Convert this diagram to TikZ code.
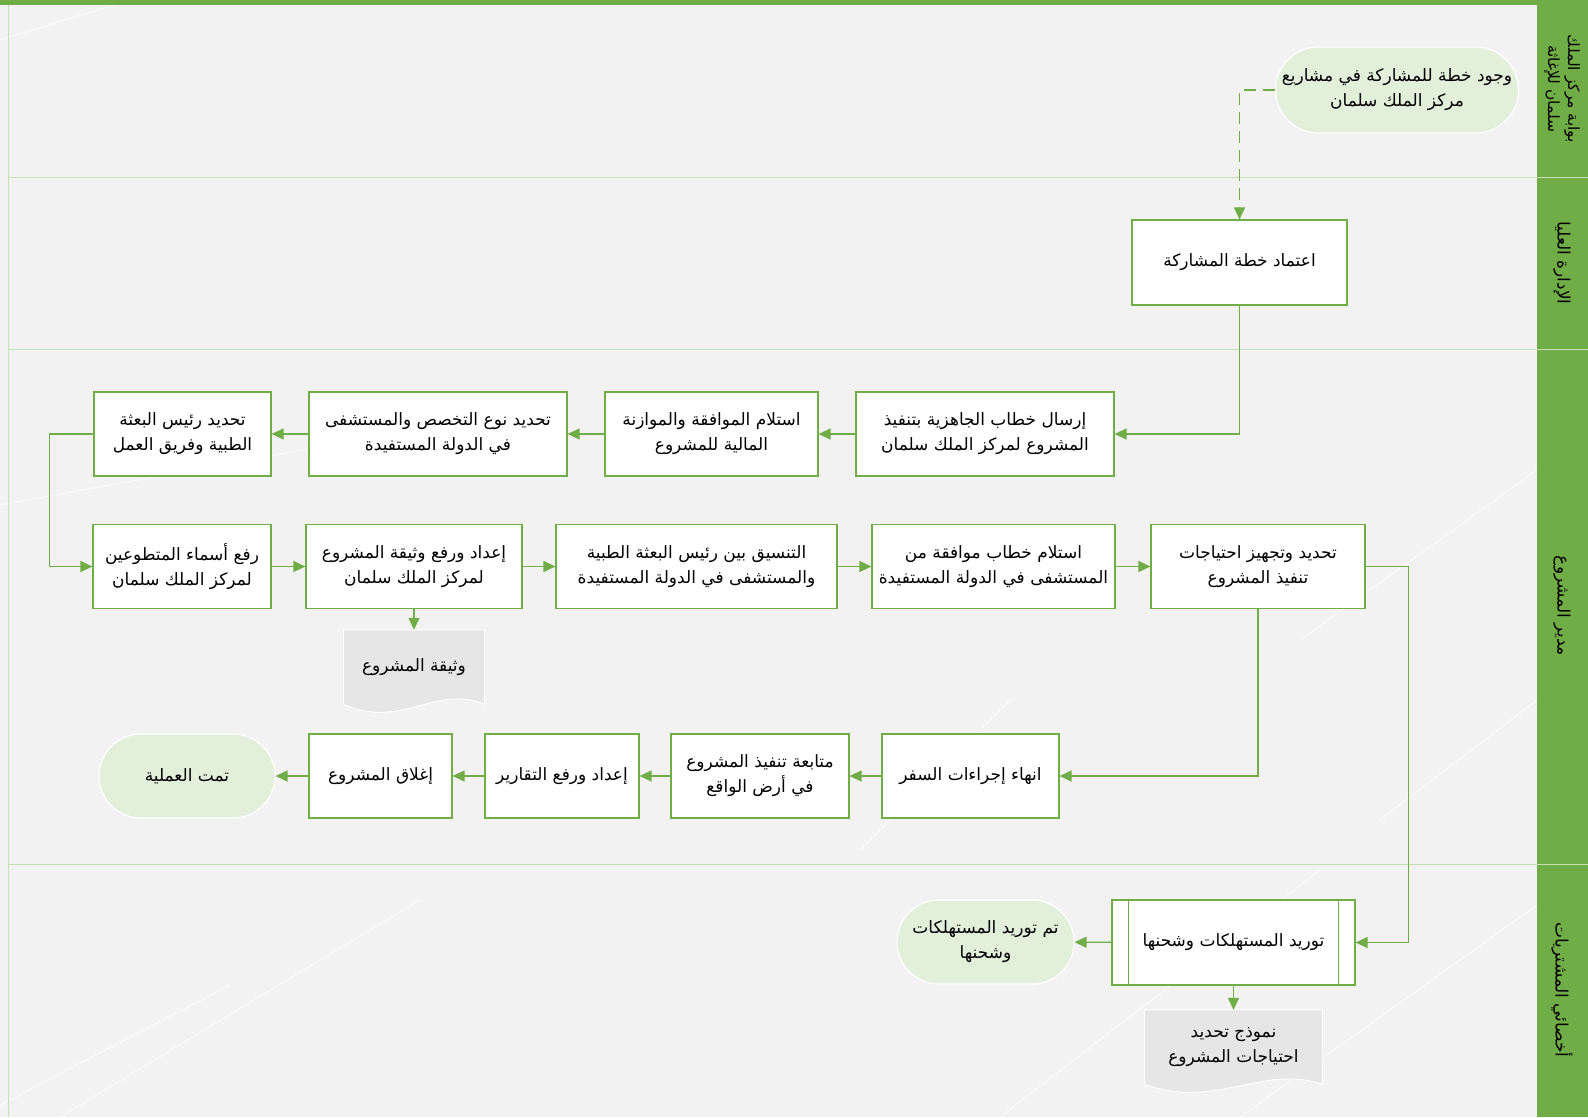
\documentclass[tikz,border=0pt]{standalone}
\usepackage{fontspec}
\newfontfamily\arabicfont[Script=Arabic]{DejaVu Sans}
\TeXXeTstate=1
\usetikzlibrary{positioning,arrows.meta,calc}
\definecolor{lanegreen}{HTML}{70AD47}
\definecolor{lanesep}{HTML}{C5E0B4}
\definecolor{paper}{HTML}{F2F2F2}
\definecolor{termfill}{HTML}{E2EFDA}
\definecolor{docfill}{HTML}{E7E6E6}
\newcommand{\ar}[1]{{\arabicfont\beginR #1\endR}}
\pgfdeclarelayer{paperlayer}
\pgfdeclarelayer{doclayer}
\pgfsetlayers{paperlayer,doclayer,main}
\tikzset{
  stepbox/.style={rectangle, draw=lanegreen, fill=white, line width=1.2pt, minimum height=84pt,
                  inner sep=2pt, align=center, font=\fontsize{17}{25}\selectfont},
  terminal/.style={rectangle, rounded corners=42pt, draw=white, fill=termfill, line width=1.2pt, minimum height=84pt,
                   inner sep=2pt, align=center, font=\fontsize{17}{25}\selectfont},
  docnode/.style={rectangle, inner sep=2pt, align=center, font=\fontsize{17}{25}\selectfont},
  flow/.style={-{Triangle[length=12pt,width=11pt]}, draw=lanegreen, line width=1.3pt},
  dashflow/.style={flow, dash pattern=on 12pt off 7pt},
  laneline/.style={draw=lanesep, line width=1pt},
  lanetitle/.style={rotate=-90, align=center, font=\fontsize{17}{21}\selectfont},
  streak/.style={draw=white, line width=1.5pt, opacity=0.5},
}
% wavy document outline behind a docnode
\newcommand{\docshape}[1]{%
  \filldraw[fill=docfill, draw=white, line width=1pt]
    (#1.north west) -- (#1.north east) -- (#1.south east)
    .. controls ($(#1.south east)!0.35!(#1.south west)+(0,-20)$)
           and ($(#1.south west)!0.4!(#1.south east)+(0,26)$) .. (#1.south west) -- cycle;}

\begin{document}
\begin{tikzpicture}[x=1pt, y=-1pt]
  \useasboundingbox (0,0) rectangle (1588,1117);

  \begin{pgfonlayer}{paperlayer}
    \fill[paper] (0,0) rectangle (1588,1117);
    \draw[streak] (0,1105) -- (230,985);
    \draw[streak] (60,1117) -- (420,900);
    \draw[streak] (0,505) -- (330,445);
    \draw[streak] (1000,1117) -- (1320,870);
    \draw[streak] (1240,1117) -- (1537,905);
    \draw[streak] (1380,820) -- (1537,700);
    \draw[streak] (1300,640) -- (1537,470);
    \draw[streak] (860,850) -- (1010,700);
    \draw[streak] (0,40) -- (130,0);
    \fill[lanegreen] (0,0) rectangle (1588,5);
    \fill[lanegreen] (1537,5) rectangle (1588,1117);
    \draw[laneline] (8,5) -- (8,1117);
    \foreach \y in {177,349,864}
      \draw[laneline] (8,\y) -- (1588,\y);
  \end{pgfonlayer}

  % lanes
  \node[lanetitle, font=\fontsize{15.5}{20}\selectfont] (lane1) at (1562,89) {\ar{بوابة مركز الملك}\\\ar{سلمان للإغاثة}};
  \node[lanetitle] (lane2) at (1562,263) {\ar{الإدارة العليا}};
  \node[lanetitle] (lane3) at (1562,606) {\ar{مدير المشروع}};
  \node[lanetitle] (lane4) at (1562,990) {\ar{أخصائي المشتريات}};

  % steps
  \node[terminal, minimum width=243pt, minimum height=86pt, rounded corners=43pt] (start) at (1397,90)
       {\ar{وجود خطة للمشاركة في مشاريع}\\\ar{مركز الملك سلمان}};
  \node[stepbox, minimum width=215pt, minimum height=85pt] (approve) at (1239.5,262.5) {\ar{اعتماد خطة المشاركة}};

  \node[stepbox, minimum width=258pt] (send) at (985,434) {\ar{إرسال خطاب الجاهزية بتنفيذ}\\\ar{المشروع لمركز الملك سلمان}};
  \node[stepbox, minimum width=213pt] (budget) at (711.5,434) {\ar{استلام الموافقة والموازنة}\\\ar{المالية للمشروع}};
  \node[stepbox, minimum width=258pt] (hospital) at (438,434) {\ar{تحديد نوع التخصص والمستشفى}\\\ar{في الدولة المستفيدة}};
  \node[stepbox, minimum width=177pt] (team) at (182.5,434) {\ar{تحديد رئيس البعثة}\\\ar{الطبية وفريق العمل}};

  \node[stepbox, minimum width=178pt] (names) at (182,566.5) {\ar{رفع أسماء المتطوعين}\\\ar{لمركز الملك سلمان}};
  \node[stepbox, minimum width=216pt] (projdoc) at (414,566.5) {\ar{إعداد ورفع وثيقة المشروع}\\\ar{لمركز الملك سلمان}};
  \node[stepbox, minimum width=281pt] (coord) at (696.5,566.5) {\ar{التنسيق بين رئيس البعثة الطبية}\\\ar{والمستشفى في الدولة المستفيدة}};
  \node[stepbox, minimum width=243pt] (letter) at (993.5,566.5) {\ar{استلام خطاب موافقة من}\\\ar{المستشفى في الدولة المستفيدة}};
  \node[stepbox, minimum width=214pt] (needs) at (1258,566.5) {\ar{تحديد وتجهيز احتياجات}\\\ar{تنفيذ المشروع}};
  \node[docnode, minimum width=141pt, minimum height=74pt] (doc1) at (414,667) {\ar{وثيقة المشروع}};

  \node[stepbox, minimum width=177pt] (travel) at (970.5,776) {\ar{انهاء إجراءات السفر}};
  \node[stepbox, minimum width=178pt] (follow) at (760,776) {\ar{متابعة تنفيذ المشروع}\\\ar{في أرض الواقع}};
  \node[stepbox, minimum width=154pt] (reports) at (562,776) {\ar{إعداد ورفع التقارير}};
  \node[stepbox, minimum width=143pt] (close) at (380.5,776) {\ar{إغلاق المشروع}};
  \node[terminal, minimum width=176pt] (done) at (187,776) {\ar{تمت العملية}};

  \node[stepbox, minimum width=243pt, minimum height=85pt] (supply) at (1233.5,942.5) {\ar{توريد المستهلكات وشحنها}};
  \draw[lanegreen, line width=1.2pt] ($(supply.north west)+(17,0)$) -- ($(supply.south west)+(17,0)$);
  \draw[lanegreen, line width=1.2pt] ($(supply.north east)+(-17,0)$) -- ($(supply.south east)+(-17,0)$);
  \node[terminal, minimum width=177pt] (supplied) at (985.5,942) {\ar{تم توريد المستهلكات}\\\ar{وشحنها}};
  \node[docnode, minimum width=178pt, minimum height=74pt] (doc2) at (1233.5,1047) {\ar{نموذج تحديد}\\\ar{احتياجات المشروع}};

  \begin{pgfonlayer}{doclayer}
    \docshape{doc1}
    \docshape{doc2}
  \end{pgfonlayer}

  % connectors
  \draw[dashflow] (start.west) -| (approve.north);
  \draw[flow] (approve.south) |- (send.east);
  \draw[flow] (send) -- (budget);
  \draw[flow] (budget) -- (hospital);
  \draw[flow] (hospital) -- (team);
  \draw[flow] (team.west) -- ++(-44,0) |- (names.west);
  \draw[flow] (names) -- (projdoc);
  \draw[flow] (projdoc) -- (coord);
  \draw[flow] (coord) -- (letter);
  \draw[flow] (letter) -- (needs);
  \draw[flow] (projdoc.south) -- (doc1.north);
  \draw[flow] (needs.east) -- ++(43,0) |- (supply.east);
  \draw[flow] (needs.south) |- (travel.east);
  \draw[flow] (travel) -- (follow);
  \draw[flow] (follow) -- (reports);
  \draw[flow] (reports) -- (close);
  \draw[flow] (close) -- (done);
  \draw[flow] (supply) -- (supplied);
  \draw[flow] (supply.south) -- (doc2.north);

\end{tikzpicture}
\end{document}
